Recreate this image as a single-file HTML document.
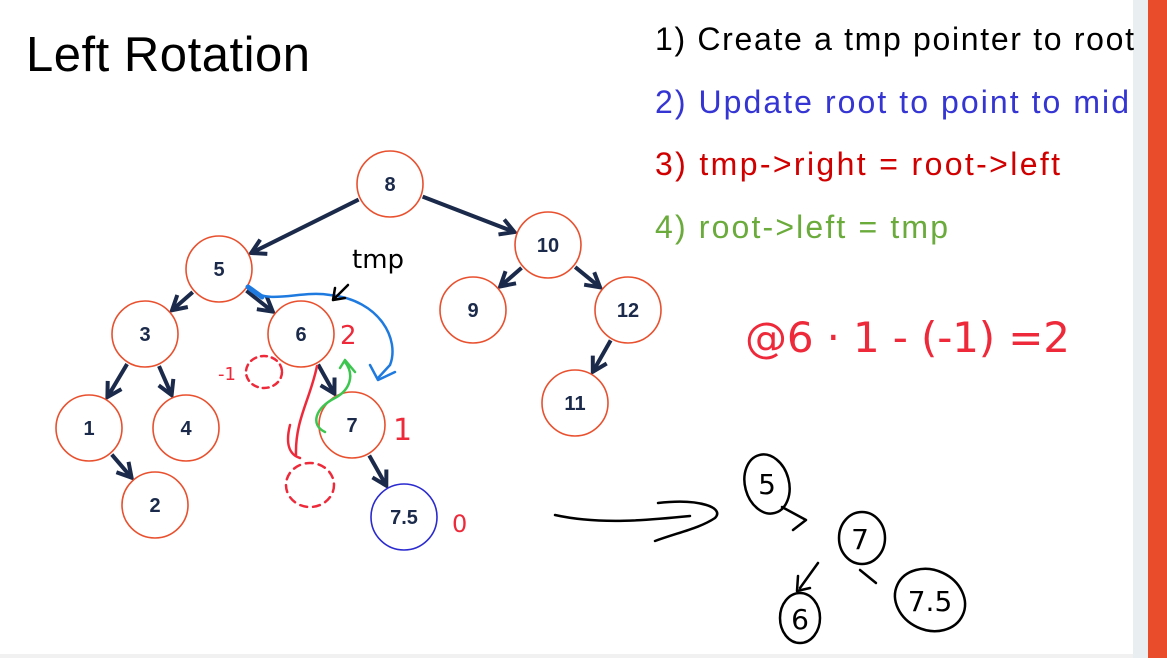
<!DOCTYPE html>
<html><head><meta charset="utf-8"><style>
html,body{margin:0;padding:0;background:#fff;}
svg{display:block;}
</style></head><body>
<svg width="1167" height="658" viewBox="0 0 1167 658" xmlns="http://www.w3.org/2000/svg">
<defs>
<marker id="ah" viewBox="0 0 10 10" refX="8" refY="5" markerWidth="5" markerHeight="5" orient="auto"><path d="M1,1 L8,5 L1,9" fill="none" stroke="#1b2a4a" stroke-width="2"/></marker>
</defs>
<rect x="0" y="0" width="1167" height="658" fill="#fff"/>
<rect x="1133" y="0" width="15" height="658" fill="#e9eef0"/>
<rect x="1148" y="0" width="19" height="658" fill="#e84c2b"/>
<rect x="0" y="654" width="1133" height="4" fill="#f1f1f1"/>
<text x="26" y="71" font-family="Liberation Sans, sans-serif" font-size="49" fill="#000" textLength="284">Left Rotation</text>
<g font-family="Liberation Sans, sans-serif" font-size="32">
<text x="655" y="50" fill="#000" textLength="479">1) Create a tmp pointer to root</text>
<text x="655" y="113" fill="#3535d4" textLength="474">2) Update root to point to mid</text>
<text x="655" y="175" fill="#d10000" textLength="405">3) tmp-&gt;right = root-&gt;left</text>
<text x="655" y="238" fill="#6aab3c" textLength="293">4) root-&gt;left = tmp</text>
</g>
<g id="tree"></g>

<g fill="none" stroke-linecap="round" stroke-linejoin="round">
<path d="M250,290 C270,305 300,290 330,295 C380,300 400,340 390,365 L378,378" stroke="#1f7ae0" stroke-width="2.5"/>
<path d="M370,365 L378,380 L395,372" stroke="#1f7ae0" stroke-width="2.5"/>
<path d="M248,287 L262,297" stroke="#1f7ae0" stroke-width="5"/>
<path d="M348,285 L333,300 M333,300 L345,298 M333,300 L335,288" stroke="#000" stroke-width="2.5"/>
<text x="352" y="268" font-family="DejaVu Sans, sans-serif" font-size="26" fill="#000">tmp</text>
<path d="M317,366 C310,400 295,420 296,455 M290,425 C285,445 290,455 300,458" stroke="#ee2a3a" stroke-width="2.5"/>
<path d="M325,432 C310,425 315,408 335,398 C350,390 355,375 345,362 M340,368 L345,360 L355,372" stroke="#3cc650" stroke-width="2.5"/>
<ellipse cx="264" cy="372" rx="18" ry="16" stroke="#ee2a3a" stroke-width="2.5" stroke-dasharray="6,5"/>
<ellipse cx="310" cy="485" rx="24" ry="22" stroke="#ee2a3a" stroke-width="2.5" stroke-dasharray="7,6"/>
<ellipse cx="767" cy="484" rx="22" ry="30" stroke="#000" stroke-width="2.5" transform="rotate(-15 767 484)"/>
<ellipse cx="862" cy="538" rx="23" ry="26" stroke="#000" stroke-width="2.5"/>
<ellipse cx="800" cy="618" rx="20" ry="25" stroke="#000" stroke-width="2.5"/>
<ellipse cx="930" cy="600" rx="36" ry="30" stroke="#000" stroke-width="2.5" transform="rotate(25 930 600)"/>
<path d="M782,507 L806,520 L793,530" stroke="#000" stroke-width="2.5"/>
<path d="M818,563 L800,588 M798,576 L797,591 L810,588" stroke="#000" stroke-width="2.5"/>
<path d="M860,570 L876,583" stroke="#000" stroke-width="2.5"/>
<path d="M555,515 C600,525 650,520 690,516 M658,503 C700,498 725,508 715,518 C700,528 680,532 655,541" stroke="#000" stroke-width="2.5"/>
</g>
<g font-family="DejaVu Sans, sans-serif" fill="#000">
<text x="767" y="494" font-size="28" text-anchor="middle">5</text>
<text x="860" y="549" font-size="28" text-anchor="middle">7</text>
<text x="800" y="629" font-size="28" text-anchor="middle">6</text>
<text x="930" y="611" font-size="28" text-anchor="middle">7.5</text>
</g>
<g font-family="DejaVu Sans, sans-serif" fill="#ee2a3a">
<text x="340" y="344" font-size="26">2</text>
<text x="393" y="440" font-size="30">1</text>
<text x="452" y="532" font-size="24">0</text>
<text x="218" y="380" font-size="18">-1</text>
<text x="745" y="352" font-size="42" textLength="325">@6 · 1 - (-1) =2</text>
</g>
</svg>
<script>
const labels=["8","5","10","3","6","9","12","1","4","7","11","2","7.5"];
const nodeX=[390,219,548,145,301,473,628,89,186,352,575,155,404];
const nodeY=[184,269,245,334,334,310,310,428,428,425,403,505,517];
const edgesFrom=[0,0,1,1,2,2,3,3,4,6,7,9];
const edgesTo=[1,2,3,4,5,6,7,8,9,10,11,12];
const R=33, NS="http://www.w3.org/2000/svg";
const g=document.getElementById('tree');
for(let i=0;i<edgesFrom.length;i++){
 const a=edgesFrom[i],b=edgesTo[i];
 const dx=nodeX[b]-nodeX[a],dy=nodeY[b]-nodeY[a],d=Math.hypot(dx,dy);
 const ux=dx/d,uy=dy/d;
 const l=document.createElementNS(NS,'line');
 l.setAttribute('x1',nodeX[a]+ux*(R+2));l.setAttribute('y1',nodeY[a]+uy*(R+2));
 l.setAttribute('x2',nodeX[b]-ux*(R+3));l.setAttribute('y2',nodeY[b]-uy*(R+3));
 l.setAttribute('stroke','#1b2a4a');l.setAttribute('stroke-width','4');
 l.setAttribute('marker-end','url(#ah)');
 
 
 g.appendChild(l);
}
for(let i=0;i<labels.length;i++){
 const c=document.createElementNS(NS,'circle');
 c.setAttribute('cx',nodeX[i]);c.setAttribute('cy',nodeY[i]);c.setAttribute('r',R);
 c.setAttribute('fill','#fff');c.setAttribute('stroke',labels[i]==="7.5"?'#2a2ad0':'#e8502e');c.setAttribute('stroke-width','1.6');
 
 
 g.appendChild(c);
 const t=document.createElementNS(NS,'text');
 t.setAttribute('x',nodeX[i]);t.setAttribute('y',nodeY[i]+7);t.setAttribute('text-anchor','middle');
 t.setAttribute('font-family','Liberation Sans, sans-serif');t.setAttribute('font-weight','bold');t.setAttribute('font-size','20');t.setAttribute('fill','#1b2a4a');
 t.textContent=labels[i];
 
 
 g.appendChild(t);
}
</script>
</body></html>
